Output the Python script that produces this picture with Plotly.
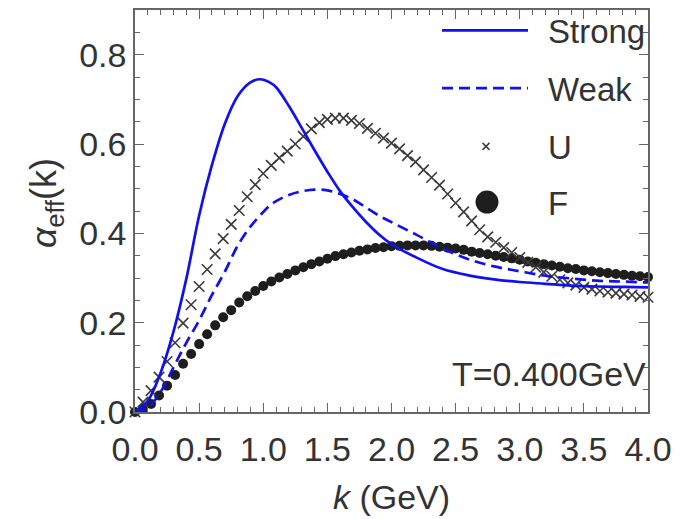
import plotly.graph_objects as go

# ---------------- data ----------------
k_line = [0.0, 0.1, 0.2, 0.3, 0.4, 0.5, 0.6, 0.7, 0.8, 0.9, 0.975, 1.05, 1.1, 1.2, 1.3,
          1.4, 1.5, 1.6, 1.7, 1.8, 1.9, 2.0, 2.2, 2.4, 2.6, 2.8, 3.0, 3.2, 3.4, 3.6, 3.8, 4.0]
strong = [0.0, 0.025, 0.088, 0.18, 0.298, 0.44, 0.553, 0.645, 0.707, 0.738, 0.745, 0.738, 0.727,
          0.685, 0.636, 0.586, 0.538, 0.494, 0.458, 0.426, 0.398, 0.376, 0.345, 0.320, 0.306,
          0.297, 0.291, 0.287, 0.283, 0.281, 0.280, 0.279]
weak = [0.0, 0.01, 0.045, 0.10, 0.155, 0.205, 0.262, 0.314, 0.372, 0.415, 0.44, 0.462, 0.472,
        0.486, 0.494, 0.498, 0.496, 0.488, 0.476, 0.458, 0.440, 0.425, 0.396, 0.366, 0.342,
        0.326, 0.315, 0.305, 0.299, 0.294, 0.292, 0.290]

k_pts = [0.0, 0.0625, 0.125, 0.1875, 0.25, 0.3125, 0.375, 0.4375, 0.5, 0.5625, 0.625, 0.6875,
         0.75, 0.8125, 0.875, 0.9375, 1.0, 1.0625, 1.125, 1.1875, 1.25, 1.3125, 1.375, 1.4375,
         1.5, 1.5625, 1.625, 1.6875, 1.75, 1.8125, 1.875, 1.9375, 2.0, 2.0625, 2.125, 2.1875,
         2.25, 2.3125, 2.375, 2.4375, 2.5, 2.5625, 2.625, 2.6875, 2.75, 2.8125, 2.875, 2.9375,
         3.0, 3.0625, 3.125, 3.1875, 3.25, 3.3125, 3.375, 3.4375, 3.5, 3.5625, 3.625, 3.6875,
         3.75, 3.8125, 3.875, 3.9375, 4.0]
u_vals = [0.000, 0.022, 0.048, 0.078, 0.113, 0.155, 0.199, 0.240, 0.281, 0.319, 0.354, 0.388,
          0.420, 0.451, 0.482, 0.509, 0.534, 0.552, 0.569, 0.584, 0.600, 0.617, 0.634, 0.648,
          0.655, 0.658, 0.658, 0.653, 0.646, 0.635, 0.624, 0.613, 0.602, 0.589, 0.574, 0.560,
          0.542, 0.525, 0.508, 0.488, 0.468, 0.448, 0.428, 0.408, 0.392, 0.380, 0.368, 0.357,
          0.346, 0.335, 0.324, 0.313, 0.304, 0.296, 0.289, 0.284, 0.279, 0.275, 0.271, 0.268,
          0.266, 0.264, 0.262, 0.259, 0.257]
f_vals = [0.000, 0.008, 0.018, 0.037, 0.059, 0.083, 0.108, 0.130, 0.152, 0.174, 0.194, 0.212,
          0.228, 0.245, 0.259, 0.271, 0.282, 0.292, 0.301, 0.309, 0.317, 0.324, 0.331, 0.337,
          0.343, 0.349, 0.353, 0.357, 0.361, 0.364, 0.367, 0.369, 0.371, 0.372, 0.373, 0.373,
          0.373, 0.372, 0.370, 0.368, 0.366, 0.363, 0.359, 0.356, 0.353, 0.350, 0.347, 0.344,
          0.341, 0.337, 0.334, 0.331, 0.328, 0.325, 0.322, 0.320, 0.317, 0.315, 0.313, 0.311,
          0.309, 0.307, 0.305, 0.304, 0.302]

x_ticks = [0.0, 0.5, 1.0, 1.5, 2.0, 2.5, 3.0, 3.5, 4.0]
y_ticks = [0.0, 0.2, 0.4, 0.6, 0.8]
legend_names = ["Strong", "Weak", "U", "F"]

# ---------------- style ----------------
BLUE = "#1010f0"
DARK = "#1e1e1e"
TXT = "#333333"
AX = "#666666"
FONT = "Liberation Sans"

W, H = 697, 519
L, R, T, B = 135, 49, 8, 107
PW, PH = W - L - R, H - T - B


def px2paper(px, py):
    return (px - L) / PW, (H - B - py) / PH


fig = go.Figure()

fig.add_trace(go.Scatter(x=k_pts, y=f_vals, mode="markers", name=legend_names[3],
                         marker=dict(symbol="circle", size=10, color=DARK),
                         cliponaxis=False, showlegend=False))
fig.add_trace(go.Scatter(x=k_pts, y=u_vals, mode="markers", name=legend_names[2],
                         marker=dict(symbol="x-thin", size=10.5,
                                     line=dict(color="#3a3a3a", width=1.6)),
                         cliponaxis=False, showlegend=False))
fig.add_trace(go.Scatter(x=k_line, y=weak, mode="lines", name=legend_names[1],
                         line=dict(color=BLUE, width=2.7, dash="11px,6px", shape="spline"),
                         showlegend=False))
fig.add_trace(go.Scatter(x=k_line, y=strong, mode="lines", name=legend_names[0],
                         line=dict(color=BLUE, width=2.7, shape="spline"),
                         showlegend=False))

# ---------------- manual legend ----------------
x0, _ = px2paper(442, 0)
x1, _ = px2paper(528, 0)
xt, _ = px2paper(546, 0)
rows_py = [28.5, 86.5, 145, 201]
for i, py in enumerate(rows_py[:2]):
    _, yp = px2paper(0, py)
    fig.add_shape(type="line", xref="paper", yref="paper", x0=x0, x1=x1, y0=yp, y1=yp,
                  line=dict(color=BLUE, width=2.7, dash="solid" if i == 0 else "11px,6px"))

ux, uy = px2paper(486, rows_py[2])
fx, fy = px2paper(487, rows_py[3])
fig.add_trace(go.Scatter(x=[ux], y=[uy], xaxis="x2", yaxis="y2", mode="markers",
                         marker=dict(symbol="x-thin", size=7, line=dict(color="#444444", width=1.6)),
                         showlegend=False, hoverinfo="skip"))
fig.add_trace(go.Scatter(x=[fx], y=[fy], xaxis="x2", yaxis="y2", mode="markers",
                         marker=dict(symbol="circle", size=23, color=DARK),
                         showlegend=False, hoverinfo="skip"))

for name, py in zip(legend_names, rows_py):
    _, yp = px2paper(0, py + 1)
    fig.add_annotation(x=xt, y=yp, xref="paper", yref="paper", text=name, showarrow=False,
                       xanchor="left", yanchor="middle",
                       font=dict(family=FONT, size=33, color=TXT))

# temperature label
fig.add_annotation(x=1.0, y=px2paper(0, 374)[1], xref="paper", yref="paper",
                   text="T=0.400GeV", showarrow=False, xanchor="right", yanchor="middle",
                   font=dict(family=FONT, size=34, color=TXT))

# y-axis title
fig.add_annotation(x=px2paper(46, 0)[0], y=px2paper(0, 202)[1], xref="paper", yref="paper",
                   text="<i>α</i><sub>eff</sub>(k)", showarrow=False, textangle=-90,
                   xanchor="center", yanchor="middle",
                   font=dict(family=FONT, size=36, color=TXT))
# x-axis title
fig.add_annotation(x=0.5, y=px2paper(0, 497)[1], xref="paper", yref="paper",
                   text="<i>k</i> (GeV)", showarrow=False, xanchor="center", yanchor="middle",
                   font=dict(family=FONT, size=34, color=TXT))

axis_common = dict(showline=True, linecolor=AX, linewidth=1.5, mirror="ticks",
                   ticks="inside", ticklen=9, tickwidth=1.3, tickcolor=AX,
                   showgrid=False, zeroline=False,
                   tickfont=dict(family=FONT, size=34, color=TXT))

fig.update_layout(
    width=W, height=H,
    margin=dict(l=L, r=R, t=T, b=B),
    paper_bgcolor="white", plot_bgcolor="white",
    xaxis=dict(range=[0, 4], tickvals=x_ticks, ticktext=[f"{v:.1f}" for v in x_ticks],
               minor=dict(ticks="inside", ticklen=5, tickwidth=1.1, tickcolor=AX, dtick=0.1,
                          tick0=0),
               ticklabelstandoff=6, **axis_common),
    yaxis=dict(range=[0, 0.9], tickvals=y_ticks, ticktext=[f"{v:.1f}" for v in y_ticks],
               minor=dict(ticks="inside", ticklen=5, tickwidth=1.1, tickcolor=AX, dtick=0.05,
                          tick0=0),
               ticklabelstandoff=0, **axis_common),
    xaxis2=dict(range=[0, 1], overlaying="x", visible=False, fixedrange=True),
    yaxis2=dict(range=[0, 1], overlaying="y", visible=False, fixedrange=True),
    showlegend=False,
)

fig.write_html("out.html")
